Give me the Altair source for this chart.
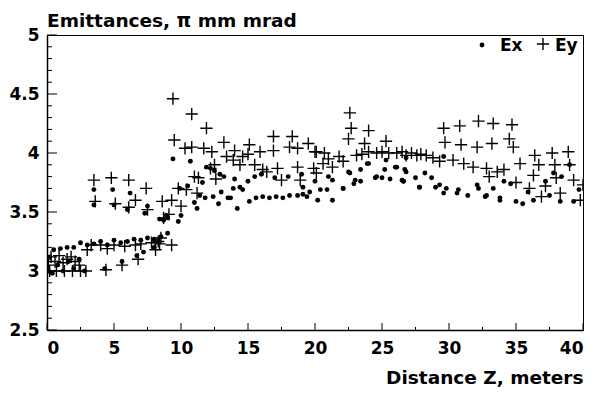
import altair as alt
import pandas as pd

# Ex (dots)
ex_x = [0.2,0.5,1.0,1.5,2.0,2.5,3.0,3.5,4.0,4.5,5.0,5.5,6.0,6.5,7.0,7.5,8.0,8.5,9.0,
        0.1,0.4,0.8,1.2,1.6,2.0,2.4,2.8,4.3,5.6,6.7,7.2,8.0,8.3,8.7,8.9,9.8,10.0,
        3.5,4.9,6.2,7.3,7.5,3.5,5.0,6.0,8.4,9.0,
        9.4,10.7,11.2,11.4,12.4,12.8,13.5,12.2,12.5,11.0,11.8,9.9,10.5,11.6,12.9,13.2,13.9,14.6,13.7,14.2,15.1,15.6,13.0,11.9,14.4,
        16.1,16.6,17.1,17.6,18.1,18.7,19.1,19.6,20.2,20.9,21.3,22.1,19.4,20.4,
        14.0,15.0,15.5,16.0,17.0,18.0,19.0,20.0,21.0,
        23.9,25.3,26.1,22.6,21.3,19.1,24.6,25.0,25.6,26.6,27.8,29.3,30.6,32.1,32.8,22.9,
        22.5,23.4,24.0,25.2,26.0,26.7,23.0,23.4,24.5,26.5,22.1,
        26.8,28.2,28.7,26.8,27.5,26.6,27.8,29.0,29.8,30.7,31.4,32.2,32.7,29.6,33.8,29.6,
        33.3,34.1,34.6,35.9,37.2,37.8,38.4,39.0,39.7,33.8,35.0,35.5,38.3,39.3,36.3,37.5]
ex_y = [3.12,3.18,3.19,3.20,3.20,3.24,3.22,3.23,3.25,3.22,3.26,3.24,3.25,3.27,3.26,3.28,3.27,3.29,3.32,
        3.00,2.98,3.05,3.00,3.08,3.02,3.10,3.00,3.02,3.08,3.13,3.16,3.20,3.25,3.43,3.47,3.42,3.47,
        3.69,3.69,3.66,3.49,3.55,3.56,3.56,3.52,3.44,3.45,
        3.95,3.93,3.53,3.64,3.63,3.57,3.62,3.87,3.85,3.58,3.62,3.70,3.72,3.75,3.82,3.80,3.70,3.69,3.62,3.53,3.59,3.62,3.67,3.88,3.71,
        3.63,3.62,3.63,3.62,3.64,3.64,3.65,3.67,3.60,3.69,3.60,3.70,3.63,3.69,
        3.78,3.76,3.80,3.82,3.79,3.80,3.82,3.76,3.80,
        3.91,3.94,3.88,3.83,3.77,3.71,3.80,3.79,3.78,3.76,3.71,3.73,3.66,3.73,3.64,3.74,
        3.84,3.86,3.91,3.86,3.88,3.86,3.77,3.76,3.79,3.77,3.70,
        3.96,3.83,3.79,3.84,3.79,3.76,3.71,3.71,3.70,3.69,3.64,3.70,3.63,3.66,3.62,3.97,
        3.70,3.76,3.74,3.67,3.76,3.83,3.80,3.90,3.69,3.60,3.59,3.57,3.59,3.59,3.60,3.64]

# Ey (crosses)
ey_x = [0.1,0.3,0.6,0.9,1.2,1.5,1.8,2.1,2.4,0.2,0.7,1.3,1.9,2.5,2.9,3.0,3.3,4.0,4.5,5.0,5.8,6.6,7.0,7.8,8.3,8.5,9.3,4.4,5.6,6.8,8.1,8.4,
        3.5,4.8,6.1,7.4,3.6,5.1,6.1,6.6,7.5,8.6,8.7,9.1,10.0,9.3,
        9.4,10.8,11.9,9.5,10.3,10.8,11.7,12.3,13.2,13.4,11.3,9.8,10.4,11.0,12.2,12.5,11.2,12.6,
        15.1,16.9,18.3,19.5,14.0,15.9,16.9,18.1,18.7,20.1,13.9,14.6,15.0,16.1,17.2,18.7,19.9,17.5,18.9,15.5,14.4,16.4,
        22.6,22.7,24.0,22.5,23.7,25.3,20.0,20.7,20.1,20.6,21.3,22.1,23.1,24.6,26.1,26.8,21.0,21.8,23.5,24.0,25.0,25.5,26.5,27.2,
        29.6,30.8,32.2,33.3,29.7,30.9,32.1,33.2,27.6,28.3,29.3,30.3,31.1,31.8,32.8,33.6,28.8,27.9,
        34.7,34.5,34.8,36.4,37.7,38.9,35.3,36.7,37.9,39.0,34.1,36.3,38.0,39.3,40.0,36.0,38.3,36.9,39.8,35.0,37.2,33.0]
ey_y = [3.05,3.12,3.08,3.13,3.07,3.10,3.12,3.08,3.05,3.00,3.00,3.00,3.00,3.00,3.00,3.18,3.22,3.22,3.19,3.22,3.21,3.22,3.23,3.24,3.25,3.28,3.22,3.01,3.05,3.10,3.18,3.23,
        3.77,3.79,3.77,3.70,3.59,3.57,3.54,3.60,3.52,3.59,3.45,3.48,3.55,3.60,
        4.46,4.33,4.21,4.11,4.04,4.05,4.04,4.01,4.09,3.97,3.79,3.70,3.69,3.80,3.87,3.90,3.66,3.78,
        4.07,4.14,4.14,4.08,4.02,4.01,4.02,4.05,4.04,4.01,3.94,3.97,3.99,3.86,3.87,3.88,3.87,3.77,3.77,3.90,3.90,3.84,
        4.34,4.21,4.19,4.12,4.08,4.10,4.01,4.00,3.83,3.91,3.88,3.93,3.98,4.00,4.00,3.98,3.95,3.97,3.99,4.01,4.01,4.00,4.01,4.00,
        4.21,4.23,4.27,4.25,4.09,4.07,4.05,4.08,3.98,3.98,3.93,3.94,3.91,3.88,3.87,3.84,3.96,3.99,
        4.24,4.12,4.05,3.98,4.00,4.01,3.91,3.90,3.90,3.90,3.86,3.81,3.79,3.77,3.73,3.70,3.66,3.63,3.60,3.75,3.72,3.80]

x_major = [0, 5, 10, 15, 20, 25, 30, 35, 40]
x_minor = [2.5, 7.5, 12.5, 17.5, 22.5, 27.5, 32.5, 37.5]
y_major = [2.5, 3.0, 3.5, 4.0, 4.5, 5.0]
y_minor = [2.6, 2.7, 2.8, 2.9, 3.1, 3.2, 3.3, 3.4, 3.6, 3.7, 3.8, 3.9, 4.1, 4.2, 4.3, 4.4, 4.6, 4.7, 4.8, 4.9]

title_text = "Emittances,  π mm mrad"
x_title = "Distance Z, meters"
legend_labels = ["Ex", "Ey"]

df = pd.concat([
    pd.DataFrame({"z": ex_x, "e": ex_y, "series": "Ex"}),
    pd.DataFrame({"z": ey_x, "e": ey_y, "series": "Ey"}),
])

FONT = "DejaVu Sans"
CROSS = "M-1,0H1M0,-1V1"

xs = alt.Scale(domain=[0, 40], nice=False, zero=False)
ys = alt.Scale(domain=[2.5, 5], nice=False, zero=False)

dots = alt.Chart(df[df.series == "Ex"]).mark_point(
    filled=True, shape="circle", size=24, color="black", opacity=1, clip=True
).encode(
    x=alt.X("z:Q", scale=xs,
            axis=alt.Axis(values=x_major, title=x_title, titleAnchor="end",
                          titleAlign="right", titleBaseline="alphabetic", titleY=53,
                          labelPadding=10, ticks=False)),
    y=alt.Y("e:Q", scale=ys,
            axis=alt.Axis(values=y_major, format="~g", title=None, labelPadding=8, ticks=False)),
)

crosses = alt.Chart(df[df.series == "Ey"]).mark_point(
    filled=False, shape=CROSS, size=150, color="black", strokeWidth=1.4, opacity=1, clip=True
).encode(
    x=alt.X("z:Q", scale=xs),
    y=alt.Y("e:Q", scale=ys),
)

ymaj = alt.Chart(pd.DataFrame({"v": y_major})).mark_rule(color="black", strokeWidth=1).encode(
    y=alt.Y("v:Q", scale=ys), x=alt.value(0), x2=alt.value(10))
ymin = alt.Chart(pd.DataFrame({"v": y_minor})).mark_rule(color="black", strokeWidth=1).encode(
    y=alt.Y("v:Q", scale=ys), x=alt.value(0), x2=alt.value(5))
xmaj = alt.Chart(pd.DataFrame({"v": x_major})).mark_rule(color="black", strokeWidth=1).encode(
    x=alt.X("v:Q", scale=xs), y=alt.value(295), y2=alt.value(288))
xmin = alt.Chart(pd.DataFrame({"v": x_minor})).mark_rule(color="black", strokeWidth=1).encode(
    x=alt.X("v:Q", scale=xs), y=alt.value(295), y2=alt.value(292))

title = alt.Chart(pd.DataFrame({"t": [title_text]})).mark_text(
    align="left", baseline="top", font=FONT, fontSize=18.5, fontWeight="bold", color="black"
).encode(text="t:N", x=alt.value(0), y=alt.value(-23))

leg_dot = alt.Chart(pd.DataFrame({"s": [legend_labels[0]]})).mark_point(
    filled=True, shape="circle", size=24, color="black", opacity=1
).encode(x=alt.value(435), y=alt.value(10), detail="s:N")
leg_cross = alt.Chart(pd.DataFrame({"s": [legend_labels[1]]})).mark_point(
    filled=False, shape=CROSS, size=150, color="black", strokeWidth=1.4, opacity=1
).encode(x=alt.value(496), y=alt.value(9), detail="s:N")
leg_text = alt.Chart(pd.DataFrame({"s": legend_labels, "px": [453, 508]})).mark_text(
    align="left", baseline="alphabetic", font=FONT, fontSize=17, fontWeight="bold", color="black"
).encode(text="s:N", x=alt.X("px:Q", scale=None), y=alt.value(16))

chart = alt.layer(dots, crosses, ymaj, ymin, xmaj, xmin, title, leg_dot, leg_cross, leg_text).properties(
    width=536, height=295,
    autosize=alt.AutoSizeParams(type="none"),
    padding={"left": 39, "top": 27, "right": 5, "bottom": 57},
).configure_view(stroke="black", strokeWidth=1).configure_axis(
    grid=False, domainColor="black", domainWidth=1.5,
    labelFont=FONT, labelFontSize=17, labelFontWeight="bold", labelColor="black",
    titleFont=FONT, titleFontSize=18.5, titleFontWeight="bold", titleColor="black",
)

chart.save("out.html", embed_options={"renderer": "svg", "actions": False})
